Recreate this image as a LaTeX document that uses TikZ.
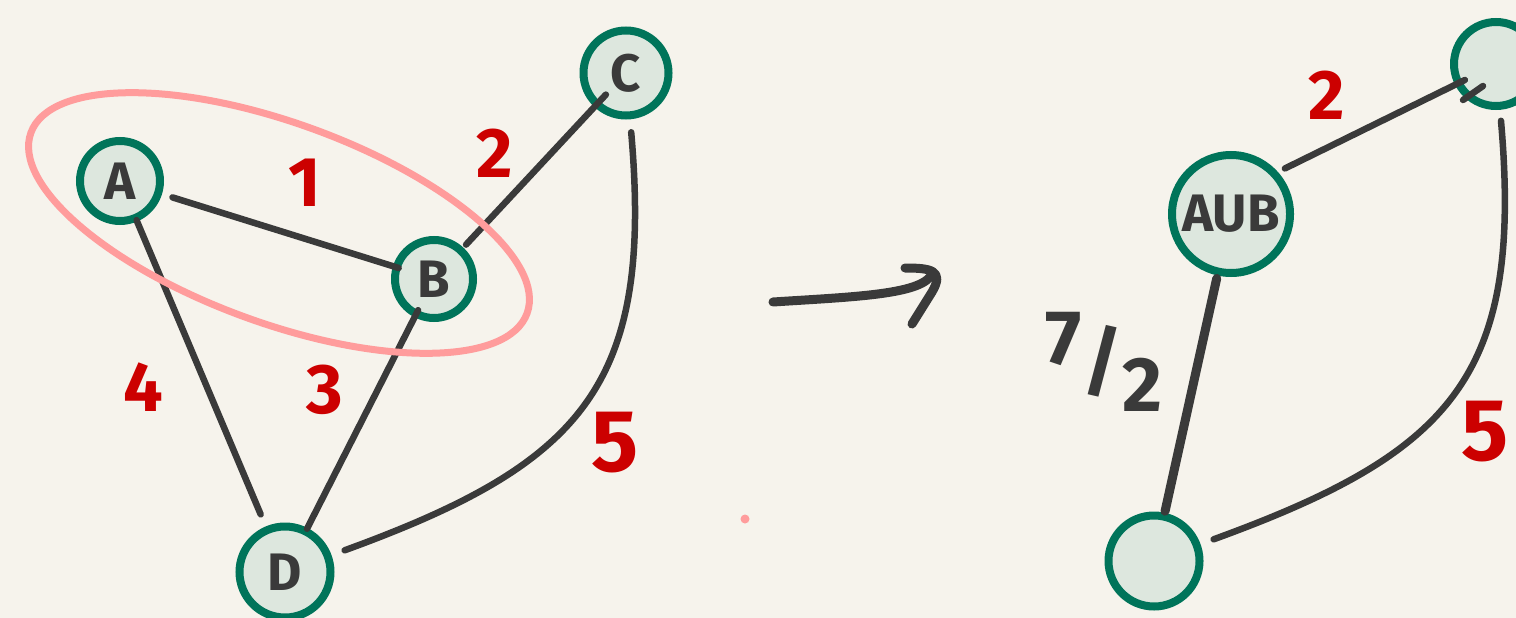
\documentclass[tikz,border=0pt]{standalone}
\usepackage{fontspec}
\setmainfont{Fira Sans}
\usepackage{tikz}
\usetikzlibrary{positioning}

\definecolor{paper}{HTML}{F6F3EC}
\definecolor{vfill}{HTML}{DDE7DE}
\definecolor{vring}{HTML}{00745A}
\definecolor{ink}{HTML}{3A3A3A}
\definecolor{wred}{HTML}{CC0000}
\definecolor{hilite}{HTML}{FF9C9C}

\begin{document}
\begin{tikzpicture}[
    vertex/.style={circle, draw=vring, fill=vfill, line width=0.08cm, inner sep=0pt, outer sep=0pt,
                   text=ink, font=\fontsize{15}{15}\selectfont\bfseries},
    edge/.style={draw=ink, line width=0.065cm, line cap=round},
    weight/.style={text=wred, font=\fontsize{20}{20}\selectfont\bfseries},
    bigweight/.style={text=wred, font=\fontsize{25}{25}\selectfont\bfseries}
  ]
            % Background
            \fill[paper] (0,0) rectangle (15.16,-6.18);
            \useasboundingbox (0,0) rectangle (15.16,-6.18);

            % Nodes (before contraction)
            \node[vertex, minimum size=0.80cm] (a) at (1.20, -1.81) {A};
            \node[vertex, minimum size=0.78cm] (b) at (4.34, -2.79) {B};
            \node[vertex, minimum size=0.85cm] (c) at (6.26, -0.73) {C};
            \node[vertex, minimum size=0.91cm] (d) at (2.85, -5.72) {D};

            % Nodes (after contraction)
            \node[vertex, minimum size=1.18cm] (ab) at (12.31, -2.14) {AUB};
            \node[vertex, minimum size=0.84cm] (c2) at (14.96, -0.64) {};
            \node[vertex, minimum size=0.91cm] (d2) at (11.54, -5.61) {};

            % Edges
            \draw[edge, shorten <=0.15cm, shorten >=-0.02cm] (a) -- (b);
            \draw[edge, shorten <=0.08cm, shorten >=-0.13cm] (b) -- (c);
            \draw[edge, shorten <=0.025cm, shorten >=0.17cm] (a) -- (d);
            \draw[edge, shorten <=-0.04cm, shorten >=0.03cm] (b) -- (d);
            \draw[edge, shorten <=0.17cm, shorten >=0.18cm] (c) to[out=-85, in=20, looseness=1.3] (d);

            \draw[edge, shorten <=0.12cm, shorten >=-0.07cm] (ab.43) -- (c2.207);
            \draw[edge, line width=0.09cm, shorten <=0.07cm, shorten >=0.055cm] (ab) -- (d2);
            \draw[edge, shorten <=0.15cm, shorten >=0.18cm] (c2) to[out=-85, in=20, looseness=1.3] (d2);
            \draw[edge] ([shift={(-0.33,-0.36)}]c2.center) -- ([shift={(-0.13,-0.22)}]c2.center);

            % Weights
            \node[weight] (w1) at (3.05, -1.83) {1};
            \node[weight] (w2) at (4.95, -1.53) {2};
            \node[weight] (w4) at (1.43, -3.87) {4};
            \node[weight] (w3) at (3.25, -3.90) {3};
            \node[bigweight] (w5) at (6.15, -4.43) {5};
            \node[weight] (v2) at (13.27, -0.95) {2};
            \node[bigweight] (v5) at (14.85, -4.32) {5};
            \node[text=ink, font=\fontsize{22}{22}\selectfont\bfseries] (v7)
                at (11.04, -3.62) {\raisebox{0.3em}{7}/\raisebox{-0.3em}{2}};

            % Group marker around A and B
            \draw[hilite, line width=0.07cm] (2.79, -2.23) ellipse [x radius=2.64cm, y radius=1.0cm, rotate=-20];

            % Contraction arrow
            \draw[ink, line width=0.09cm, line cap=round] (7.73, -3.02) .. controls (8.5, -2.97) and (9.15, -2.95) .. (9.30, -2.77);
            \draw[ink, line width=0.09cm, line cap=round, line join=round] (9.05, -2.68) .. controls (9.30, -2.68) and (9.45, -2.70) .. (9.32, -2.92) -- (9.12, -3.24);

            % Stray dot
            \fill[hilite] (7.45, -5.19) circle (0.045cm);

        \end{tikzpicture}
\end{document}
